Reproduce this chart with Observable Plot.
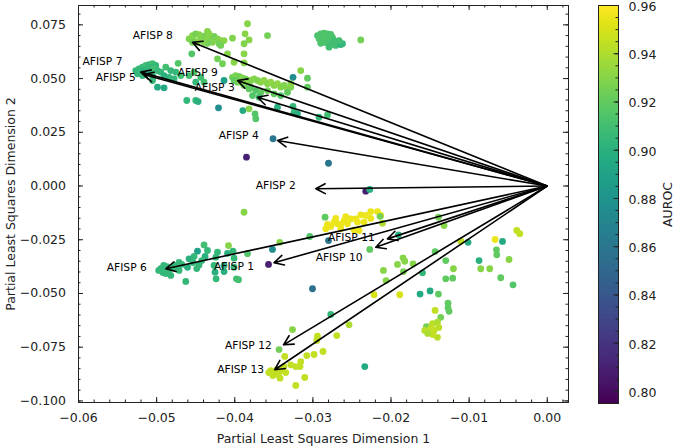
<!DOCTYPE html>
<html><head><meta charset="utf-8">
<script src="https://cdn.jsdelivr.net/npm/d3@7"></script>
<script src="https://cdn.jsdelivr.net/npm/@observablehq/plot@0.6"></script>
<style>
body{margin:0;background:#fff;}
#wrap{position:relative;width:675px;height:446px;overflow:hidden;}
#wrap svg{position:absolute;top:0;}
</style></head><body><div id="wrap"></div>
<script>
// ---- tick values ----
const xTicks = [-0.06, -0.05, -0.04, -0.03, -0.02, -0.01, 0];
const xMinorTicks = [-0.06,-0.058,-0.056,-0.054,-0.052,-0.05,-0.048,-0.046,-0.044,-0.042,-0.04,-0.038,-0.036,-0.034,-0.032,-0.03,-0.028,-0.026,-0.024,-0.022,-0.02,-0.018,-0.016,-0.014,-0.012,-0.01,-0.008,-0.006,-0.004,-0.002,0,0.002];
const yTicks = [-0.1, -0.075, -0.05, -0.025, 0, 0.025, 0.05, 0.075];
const yMinorTicks = [-0.1,-0.095,-0.09,-0.085,-0.08,-0.075,-0.07,-0.065,-0.06,-0.055,-0.05,-0.045,-0.04,-0.035,-0.03,-0.025,-0.02,-0.015,-0.01,-0.005,0,0.005,0.01,0.015,0.02,0.025,0.03,0.035,0.04,0.045,0.05,0.055,0.06,0.065,0.07,0.075,0.08];
const cbTicks = [0.80, 0.82, 0.84, 0.86, 0.88, 0.90, 0.92, 0.94, 0.96];
const cbMinorTicks = [0.80,0.805,0.81,0.815,0.82,0.825,0.83,0.835,0.84,0.845,0.85,0.855,0.86,0.865,0.87,0.875,0.88,0.885,0.89,0.895,0.90,0.905,0.91,0.915,0.92,0.925,0.93,0.935,0.94,0.945,0.95,0.955];
const xDomain = [-0.06, 0.00272];
const yDomain = [-0.10074, 0.0840];
const colorDomain = [0.795, 0.96];
const xTitle = "Partial Least Squares Dimension 1";
const yTitle = "Partial Least Squares Dimension 2";
const cbTitle = "AUROC";

// ---- loading arrows ----
const afispNames = ["AFISP 1","AFISP 2","AFISP 3","AFISP 4","AFISP 5","AFISP 6","AFISP 7","AFISP 8","AFISP 9","AFISP 10","AFISP 11","AFISP 12","AFISP 13"];
const arrowX = [-0.03497,-0.02963,-0.03709,-0.03453,-0.05165,-0.04883,-0.05203,-0.04541,-0.03965,-0.02195,-0.02045,-0.03376,-0.03488];
const arrowY = [-0.0357,-0.0013,0.0413,0.0212,0.0519,-0.0385,0.0530,0.0669,0.0491,-0.0285,-0.0246,-0.0739,-0.0855];
const labelX = [-0.03753,-0.03219,-0.0400,-0.03693,-0.05267,-0.05126,-0.05437,-0.04793,-0.04217,-0.02365,-0.02208,-0.03526,-0.03625];
const labelY = [-0.0375,0.0002,0.0460,0.0235,0.0506,-0.0378,0.0579,0.0700,0.0530,-0.0331,-0.0241,-0.0742,-0.0855];

// ---- scores [dim1, dim2, AUROC] ----
const groupAfisp8 = [
[-0.04585,0.0685,0.928],[-0.04541,0.0700,0.93],[-0.04499,0.0708,0.925],[-0.04457,0.0704,0.928],[-0.04413,0.0696,0.93],
[-0.04371,0.0700,0.925],[-0.04435,0.0680,0.928],[-0.04349,0.0685,0.93],[-0.04307,0.0692,0.928],[-0.04265,0.0696,0.925],
[-0.04221,0.0685,0.928],[-0.04179,0.0677,0.93],[-0.04201,0.0662,0.925],[-0.04285,0.0669,0.928],[-0.04349,0.0664,0.925],
[-0.04521,0.0677,0.928],[-0.04477,0.0669,0.93],[-0.04393,0.0669,0.928],[-0.04329,0.0708,0.93],[-0.04541,0.0669,0.925],
[-0.04349,0.0719,0.93],[-0.03837,0.0755,0.93],[-0.03868,0.0708,0.93],[-0.03581,0.0700,0.925],[-0.04029,0.0688,0.928],
[-0.04137,0.0677,0.93],[-0.03817,0.0680,0.93],[-0.03881,0.0662,0.928],[-0.04179,0.0654,0.925],[-0.04550,0.0615,0.915],
[-0.04093,0.0615,0.93],[-0.03881,0.0615,0.93],[-0.04221,0.0592,0.925],[-0.04009,0.0576,0.93],[-0.04157,0.0569,0.925],
[-0.03881,0.0573,0.93],[-0.04725,0.0571,0.915]
];
const groupAfisp7 = [
[-0.05267,0.0537,0.905],[-0.05225,0.0545,0.905],[-0.05181,0.0553,0.905],[-0.05139,0.0561,0.91],[-0.05097,0.0565,0.905],
[-0.05053,0.0569,0.91],[-0.05011,0.0561,0.905],[-0.05245,0.0522,0.905],[-0.05203,0.0530,0.905],[-0.05161,0.0537,0.9],
[-0.05117,0.0545,0.905],[-0.05075,0.0553,0.905],[-0.05033,0.0545,0.91],[-0.04989,0.0537,0.905],[-0.05181,0.0514,0.905],
[-0.05139,0.0522,0.905],[-0.05097,0.0530,0.9],[-0.05053,0.0514,0.905],[-0.04947,0.0530,0.905],[-0.04883,0.0553,0.91],
[-0.04819,0.0537,0.905],[-0.04755,0.0530,0.905],[-0.04691,0.0514,0.91],[-0.04841,0.0506,0.905],[-0.04777,0.0499,0.905],
[-0.04905,0.0514,0.9],[-0.05053,0.0491,0.905],[-0.04585,0.0514,0.91],[-0.04521,0.0530,0.915],[-0.04435,0.0506,0.91],
[-0.04393,0.0483,0.91],[-0.04499,0.0483,0.905],[-0.04989,0.0460,0.895],[-0.04905,0.0457,0.895],[-0.04614,0.0398,0.905],
[-0.04499,0.0398,0.905],[-0.04469,0.0393,0.9]
];
const groupAfisp9 = [
[-0.04029,0.0506,0.925],[-0.03987,0.0514,0.928],[-0.03945,0.0510,0.925],[-0.03901,0.0503,0.928],[-0.03859,0.0497,0.925],
[-0.04009,0.0491,0.92],[-0.03965,0.0483,0.925],[-0.03901,0.0478,0.928],[-0.03837,0.0483,0.93],[-0.03795,0.0491,0.928],
[-0.03753,0.0499,0.93],[-0.03709,0.0491,0.928],[-0.03667,0.0483,0.93],[-0.03625,0.0491,0.932],[-0.03581,0.0476,0.93],
[-0.03539,0.0483,0.932],[-0.03497,0.0468,0.93],[-0.03453,0.0476,0.932],[-0.03411,0.0460,0.93],[-0.03369,0.0468,0.928],
[-0.03325,0.0452,0.93],[-0.03283,0.0460,0.928],[-0.03795,0.0460,0.92],[-0.03731,0.0444,0.915],[-0.03667,0.0436,0.92],
[-0.03581,0.0444,0.925],[-0.03497,0.0429,0.92],[-0.03411,0.0421,0.915],[-0.03325,0.0436,0.92],[-0.03283,0.0476,0.93],
[-0.03773,0.0421,0.915],[-0.03689,0.0413,0.91],[-0.03881,0.0468,0.925],[-0.03817,0.0452,0.92],
[-0.03155,0.0537,0.93],[-0.03254,0.0506,0.875],[-0.03069,0.0502,0.92],[-0.03069,0.0460,0.92],[-0.04137,0.0491,0.89],
[-0.04208,0.0364,0.875],[-0.03897,0.0351,0.895],[-0.03817,0.0359,0.93],[-0.03740,0.0336,0.915],[-0.03731,0.0313,0.915],
[-0.03453,0.0367,0.9],[-0.03254,0.0370,0.905],[-0.03241,0.0343,0.905],[-0.03197,0.0336,0.9],[-0.02921,0.0320,0.905],
[-0.02813,0.0331,0.91],[-0.03510,0.0220,0.86],[-0.03850,0.0134,0.81]
];
const groupTopRight = [
[-0.02941,0.0700,0.913],[-0.02899,0.0708,0.913],[-0.02857,0.0711,0.915],[-0.02813,0.0708,0.913],[-0.02771,0.0705,0.913],
[-0.02921,0.0685,0.915],[-0.02877,0.0690,0.913],[-0.02835,0.0692,0.915],[-0.02793,0.0685,0.913],[-0.02749,0.0692,0.913],
[-0.02729,0.0677,0.91],[-0.02685,0.0669,0.91],[-0.02857,0.0669,0.913],[-0.02813,0.0664,0.913],[-0.02771,0.0658,0.91],
[-0.02707,0.0654,0.91],[-0.02643,0.0658,0.9],[-0.02621,0.0662,0.905],[-0.02793,0.0646,0.91],[-0.02665,0.0677,0.91],
[-0.02899,0.0664,0.913],[-0.02387,0.0680,0.925]
];
const groupAfisp6 = [
[-0.04393,-0.0274,0.91],[-0.04080,-0.0277,0.93],[-0.04477,-0.0303,0.89],[-0.04349,-0.0300,0.905],[-0.04221,-0.0308,0.905],
[-0.04093,-0.0313,0.9],[-0.04022,-0.0303,0.905],[-0.03837,-0.0315,0.915],[-0.04521,-0.0328,0.905],[-0.04380,-0.0328,0.9],
[-0.04243,-0.0331,0.905],[-0.04009,-0.0336,0.905],[-0.04585,-0.0339,0.9],[-0.04457,-0.0367,0.905],[-0.04265,-0.0370,0.905],
[-0.04137,-0.0370,0.9],[-0.04009,-0.0378,0.905],[-0.04713,-0.0355,0.905],[-0.04777,-0.0370,0.905],[-0.04605,-0.0378,0.9],
[-0.04713,-0.0393,0.905],[-0.04905,-0.0393,0.905],[-0.04819,-0.0416,0.905],[-0.04627,-0.0444,0.905],[-0.04252,-0.0401,0.9],
[-0.04239,-0.0432,0.905],[-0.04137,-0.0398,0.9],[-0.03978,-0.0432,0.91],[-0.03952,-0.0436,0.91],
[-0.04947,-0.0384,0.905],[-0.04909,-0.0370,0.905],[-0.04870,-0.0375,0.905],[-0.04845,-0.0389,0.905],[-0.04921,-0.0403,0.905],
[-0.04883,-0.0407,0.905],[-0.04973,-0.0393,0.905],[-0.04819,-0.0384,0.905],[-0.04755,-0.0384,0.905],[-0.04678,-0.0365,0.905],
[-0.04537,-0.0356,0.905],[-0.04486,-0.0384,0.905],[-0.04422,-0.0347,0.905]
];
const groupAfisp11 = [
[-0.02259,-0.0119,0.955],[-0.02173,-0.0119,0.955],[-0.02387,-0.0134,0.955],[-0.02323,-0.0137,0.955],[-0.02131,-0.0137,0.955],
[-0.02515,-0.0153,0.955],[-0.02451,-0.0153,0.955],[-0.02601,-0.0161,0.955],[-0.02729,-0.0168,0.955],[-0.02813,-0.0179,0.955],
[-0.02771,-0.0188,0.955],[-0.02685,-0.0176,0.955],[-0.02557,-0.0176,0.955],[-0.02429,-0.0168,0.955],[-0.02345,-0.0168,0.955],
[-0.02109,-0.0173,0.94],[-0.02473,-0.0204,0.955],[-0.02409,-0.0207,0.955],[-0.02643,-0.0199,0.955],[-0.02835,-0.0199,0.955],
[-0.02707,-0.0151,0.955],[-0.02579,-0.0142,0.955],[-0.02259,-0.0151,0.955],[-0.02643,-0.0179,0.955],
[-0.02844,-0.0145,0.92],[-0.02140,-0.0141,0.925],[-0.03040,-0.0235,0.915],[-0.02800,-0.0254,0.86],[-0.01905,-0.0227,0.9],
[-0.02272,-0.0295,0.92],[-0.02323,-0.0024,0.81],[-0.02272,-0.0016,0.9],[-0.02800,0.0106,0.86],[-0.03881,-0.0122,0.93],
[-0.03424,-0.0262,0.93],[-0.03517,-0.0295,0.875],[-0.03568,-0.0365,0.81],[-0.03005,-0.0478,0.855]
];
const groupRight = [
[-0.01393,-0.0145,0.925],[-0.01321,-0.0184,0.93],[-0.01107,-0.0257,0.945],[-0.01014,-0.0262,0.895],[-0.00668,-0.0249,0.955],
[-0.00573,-0.0258,0.895],[-0.00390,-0.0207,0.945],[-0.00352,-0.0222,0.945],[-0.00650,-0.0297,0.92],[-0.00646,-0.0320,0.92],
[-0.00873,-0.0347,0.9],[-0.00489,-0.0342,0.93],[-0.00851,-0.0385,0.93],[-0.00736,-0.0385,0.93],[-0.00595,-0.0427,0.92],
[-0.00438,-0.0460,0.915],[-0.01436,-0.0305,0.92],[-0.01299,-0.0347,0.92],[-0.01201,-0.0385,0.93],[-0.01299,-0.0432,0.92],
[-0.01210,-0.0429,0.92],[-0.01846,-0.0334,0.93],[-0.01824,-0.0350,0.93],[-0.01917,-0.0365,0.93],[-0.01718,-0.0362,0.93],
[-0.01841,-0.0398,0.925],[-0.01597,-0.0404,0.905],[-0.02097,-0.0393,0.93],[-0.02063,-0.0440,0.93],[-0.02217,-0.0506,0.95],
[-0.01888,-0.0506,0.95],[-0.01628,-0.0503,0.895],[-0.01500,-0.0488,0.895],[-0.01393,-0.0503,0.92],[-0.01270,-0.0545,0.92],
[-0.01270,-0.0567,0.92],[-0.01257,-0.0583,0.92],[-0.01436,-0.0579,0.945],[-0.01363,-0.0611,0.925],[-0.02771,-0.0598,0.905],
[-0.02336,-0.0840,0.895]
];
const groupLowerRight = [
[-0.01533,-0.0657,0.943],[-0.01469,-0.0641,0.943],[-0.01405,-0.0634,0.94],[-0.01513,-0.0680,0.943],[-0.01449,-0.0672,0.945],
[-0.01405,-0.0704,0.943],[-0.01546,-0.0654,0.925],[-0.01491,-0.0663,0.945],[-0.01389,-0.0658,0.943],[-0.01568,-0.0672,0.943],
[-0.01466,-0.0691,0.945],[-0.01530,-0.0686,0.94]
];
const groupAfisp13 = [
[-0.03261,-0.0668,0.93],[-0.02537,-0.0646,0.94],[-0.02941,-0.0699,0.945],[-0.02950,-0.0719,0.945],[-0.02694,-0.0696,0.945],
[-0.02870,-0.0770,0.945],[-0.02985,-0.0784,0.945],[-0.03078,-0.0789,0.945],[-0.03155,-0.0817,0.945],[-0.03219,-0.0840,0.945],
[-0.03164,-0.0840,0.945],[-0.03360,-0.0793,0.945],[-0.03433,-0.0761,0.925],[-0.03283,-0.0832,0.945],[-0.03420,-0.0894,0.945],
[-0.03104,-0.0891,0.945],[-0.03219,-0.0928,0.945],
[-0.03539,-0.0859,0.945],[-0.03501,-0.0868,0.945],[-0.03462,-0.0854,0.945],[-0.03424,-0.0863,0.945],[-0.03385,-0.0849,0.945],
[-0.03347,-0.0868,0.945],[-0.03513,-0.0882,0.945],[-0.03565,-0.0868,0.945],[-0.03449,-0.0877,0.945],[-0.03373,-0.0840,0.945]
];

const scores = [...groupAfisp8, ...groupAfisp7, ...groupAfisp9, ...groupTopRight, ...groupAfisp6,
  ...groupAfisp11, ...groupRight, ...groupLowerRight, ...groupAfisp13].map(([x, y, v]) => ({x, y, v}));
const loadings = afispNames.map((name, i) => ({name, x: arrowX[i], y: arrowY[i], lx: labelX[i], ly: labelY[i]}));

const colorOpts = {type: "linear", scheme: "viridis", domain: colorDomain};
const ink = "#222";
const font = "'DejaVu Sans', sans-serif";

const main = Plot.plot({
  width: 675, height: 446,
  marginLeft: 78, marginRight: 107, marginTop: 5, marginBottom: 44,
  x: {domain: xDomain},
  y: {domain: yDomain},
  color: colorOpts,
  style: {fontFamily: font, fontSize: "12.5px", color: ink, background: "white"},
  marks: [
    Plot.dot(scores, {x: "x", y: "y", fill: "v", r: 3.4}),
    Plot.arrow(loadings, {x1: () => 0, y1: () => 0, x2: "x", y2: "y", stroke: "black", strokeWidth: 1.6, headLength: 10, headAngle: 55}),
    Plot.text(loadings, {x: "lx", y: "ly", text: "name", textAnchor: "end", fontSize: 10.7, fill: "black"}),
    Plot.tickX(xTicks, {x: d => d, insetTop: 392, stroke: ink}),
    Plot.tickX(xTicks, {x: d => d, insetBottom: 392, stroke: ink}),
    Plot.tickX(xMinorTicks, {x: d => d, insetTop: 394.5, stroke: ink}),
    Plot.tickX(xMinorTicks, {x: d => d, insetBottom: 394.5, stroke: ink}),
    Plot.tickY(yTicks, {y: d => d, insetRight: 485, stroke: ink}),
    Plot.tickY(yTicks, {y: d => d, insetLeft: 485, stroke: ink}),
    Plot.tickY(yMinorTicks, {y: d => d, insetRight: 487.5, stroke: ink}),
    Plot.tickY(yMinorTicks, {y: d => d, insetLeft: 487.5, stroke: ink}),
    Plot.axisX({ticks: xTicks, tickSize: 0, tickPadding: 11, tickFormat: ".2f", label: null}),
    Plot.axisY({ticks: yTicks, tickSize: 0, tickPadding: 12.5, tickFormat: ".3f", label: null}),
    Plot.text([xTitle], {frameAnchor: "bottom", dy: 36, text: d => d, fontSize: 12.5, textAnchor: "middle", lineAnchor: "middle"}),
    Plot.text([yTitle], {frameAnchor: "left", dx: -68, rotate: -90, text: d => d, fontSize: 12.5, textAnchor: "middle", lineAnchor: "middle"}),
    Plot.frame({stroke: ink})
  ]
});

const bar = Plot.plot({
  width: 115, height: 446,
  marginLeft: 38, marginRight: 57, marginTop: 5, marginBottom: 43,
  x: {domain: [0, 1], axis: null},
  y: {domain: colorDomain},
  color: colorOpts,
  style: {fontFamily: font, fontSize: "12.5px", color: ink, background: "transparent", overflow: "visible"},
  marks: [
    Plot.raster({x1: 0, x2: 1, y1: colorDomain[0], y2: colorDomain[1], width: 1, height: 300, fill: (x, y) => y}),
    Plot.tickY(cbMinorTicks, {y: d => d, insetLeft: 17.5, stroke: ink}),
    Plot.tickY(cbTicks, {y: d => d, insetLeft: 15.5, stroke: ink}),
    Plot.axisY({anchor: "right", ticks: cbTicks, tickSize: 0, tickPadding: 10, tickFormat: ".2f", label: null, dy: 1.5}),
    Plot.text([cbTitle], {frameAnchor: "right", dx: 49, rotate: -90, text: d => d, fontSize: 12.5, textAnchor: "middle", lineAnchor: "middle"}),
    Plot.frame({stroke: ink})
  ]
});

const wrap = document.getElementById("wrap");
main.style.left = "0px";
bar.style.left = "560px";
wrap.appendChild(main);
wrap.appendChild(bar);
</script></body></html>
